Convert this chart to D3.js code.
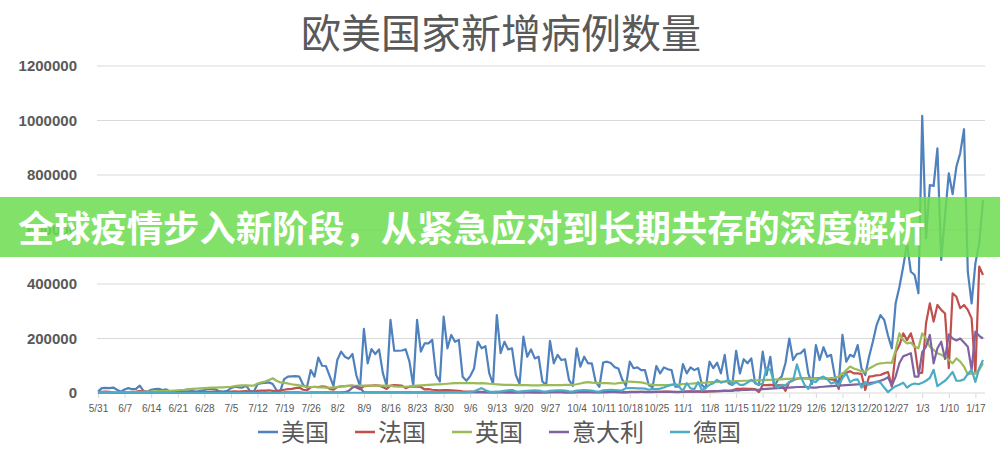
<!DOCTYPE html>
<html><head><meta charset="utf-8">
<script src="https://cdn.jsdelivr.net/npm/d3@7/dist/d3.min.js"></script>
<style>
html,body{margin:0;padding:0;background:#fff;}
svg{display:block;}
</style></head>
<body>
<svg id="chart" width="1000" height="457"></svg>
<script>
// Daily new cases, in thousands, starting 5/31 (one value per day)
const seriesNames = ["美国","法国","英国","意大利","德国"];
const seriesColors = ["#4F81BD","#C0504D","#9BBB59","#8064A2","#4BACC6"];
const usa = [
5,18,19,18,20,12,5, 13,18,14,15,27,7,5, 12,14,15,11,13,5,6, 7,10,12,13,6,5,8,
11,15,14,13,6,5,8, 18,23,21,20,27,8,5, 32,36,37,39,33,10,7, 51,60,61,62,60,30,20,
84,60,130,100,99,62,25, 121,152,133,126,143,66,23, 235,109,161,143,160,73,26,
268,155,155,156,160,115,26, 268,152,182,182,195,66,42, 280,164,213,188,195,60,45,
62,90,188,164,172,73,33, 286,146,188,160,164,66,33, 207,133,160,127,133,42,29,
191,109,140,121,124,48,26, 164,97,133,109,109,42,23, 112,115,110,95,90,50,26,
115,91,94,84,84,29,21, 99,72,94,87,84,23,23, 106,72,94,84,91,29,17,
115,91,111,72,140,36,29, 155,72,124,109,127,36,29, 152,66,133,23,48,60,110,
200,121,143,146,160,72,33, 176,121,168,133,140,60,29, 213,115,140,133,176,91,66,
133,188,250,286,268,210,164, 329,390,464,549,445,433,366, 1017,568,763,760,898,488,650,
806,730,831,880,968,445,329, 476,549,708];
const france = [
3,4,5,4,2,1,1, 2,3,4,5,7,6,3, 2,3,3,4,3,2,2, 2,3,3,4,4,3,2,
3,4,4,5,4,3,3, 5,6,5,6,7,5,4, 8,9,9,10,8,6,9, 12,14,15,18,20,12,10,
21,23,22,24,23,15,12, 22,24,25,26,27,20,14, 25,26,27,28,27,22,15,
27,29,28,27,18,23,24, 23,22,13,14,12,11,10, 11,11,10,9,8,6,5,
5,4,4,4,3,3,2, 3,3,3,2,2,2,2, 3,3,3,2,2,2,2,
3,3,3,3,2,2,2, 3,3,3,3,3,2,2, 3,3,4,4,3,2,2,
4,4,4,4,3,3,3, 4,4,5,5,4,3,3, 5,5,6,5,5,4,4,
6,6,7,8,9,8,10, 15,15,16,15,15,14,3, 29,29,30,29,28,29,8,
40,48,52,55,54,54,52, 54,55,54,52,50,48,15, 72,74,80,72,72,70,11,
60,62,65,66,72,77,23, 150,176,219,194,219,170,72, 75,256,329,262,323,305,292,
91,366,353,311,323,305,274, 72,464,433];
const uk = [
2,2,2,2,2,2,2, 2,3,3,3,3,4,4, 5,6,7,7,8,8,9, 10,11,12,14,15,16,17,
18,19,20,20,21,21,22, 23,25,27,28,28,27,27, 35,39,42,48,54,45,39, 37,35,32,30,28,25,23,
22,22,21,21,20,20,20, 22,24,25,26,27,26,27, 27,27,26,26,27,27,27,
26,24,23,23,23,24,26, 27,28,29,30,31,32,32, 33,34,35,36,36,36,36,
36,36,35,36,35,34,33, 32,31,30,30,30,29,29, 29,29,28,28,28,29,29,
29,29,29,29,30,30,30, 32,35,38,40,38,37,36, 36,36,35,34,36,38,42,
42,41,40,39,36,32,30, 29,29,29,29,30,30,31, 33,33,34,35,36,37,38,
40,40,41,42,42,43,43, 44,44,45,45,46,46,46, 47,48,48,49,50,50,52,
52,53,53,54,54,53,52, 52,53,54,54,55,56,60, 70,84,97,90,85,80,77,
90,97,105,109,110,112,110, 158,219,194,182,185,170,164, 219,200,170,158,146,140,133,
121,109,127,115,97,68,72, 72,85,109];
const italy = [
1,1,1,1,1,1,1, 1,1,1,1,1,1,1, 1,1,1,1,1,1,1, 1,1,1,1,1,1,1,
1,1,1,1,1,1,1, 1,1,1,1,1,1,1, 1,1,2,1,1,1,1, 2,2,2,2,2,1,1,
2,2,2,2,2,2,2, 2,2,3,8,20,24,18, 3,2,2,2,2,2,2,
2,2,2,2,2,2,2, 2,2,2,2,2,2,2, 2,2,2,2,2,2,2,
2,2,2,2,2,2,2, 2,2,2,2,2,2,2, 2,2,3,2,2,2,2,
3,3,3,3,2,2,2, 3,3,3,3,3,3,3, 3,3,3,3,3,3,3,
3,3,3,4,4,4,4, 4,4,4,4,4,4,4, 4,5,5,5,6,6,6,
6,7,7,7,8,8,8, 10,10,11,11,12,12,12, 14,15,16,17,18,19,20,
20,21,22,22,23,22,20, 20,22,23,24,25,26,27, 28,29,30,31,32,33,35,
36,38,40,45,50,58,27, 60,110,135,140,146,60,60, 150,170,213,109,164,188,125,
215,200,193,200,185,170,85, 225,210,200];
const germany = [
1,1,1,1,1,1,1, 1,1,1,1,1,1,1, 1,1,1,1,1,1,1, 1,1,1,1,1,1,1,
1,1,1,1,1,1,1, 1,1,1,1,1,1,1, 1,1,1,1,1,1,1, 1,1,1,1,1,1,1,
1,1,1,1,1,1,1, 1,1,1,1,1,1,1, 1,1,1,1,1,1,1,
1,1,1,1,1,1,1, 1,1,1,1,1,1,1, 2,2,3,3,3,2,2,
4,6,12,18,10,5,4, 5,6,8,10,11,6,5, 7,8,9,10,9,6,5,
8,9,10,10,9,6,5, 9,10,11,10,9,6,5, 10,11,12,11,10,9,18,
18,18,17,17,16,12,15, 14,16,20,26,30,34,22, 8,36,17,14,40,10,20,
30,36,48,38,42,48,30, 40,30,30,38,48,38,30, 35,91,85,40,20,30,28,
40,45,105,60,30,15,45, 40,55,60,50,35,40,28, 55,72,40,48,50,20,40,
30,35,42,38,20,3,15, 25,30,38,20,30,35,32, 38,45,55,85,25,35,45,
60,77,45,45,50,70,85, 41,91,121];
const seriesValues = [usa, france, uk, italy, germany];

const xTickLabels = ["5/31","6/7","6/14","6/21","6/28","7/5","7/12","7/19","7/26","8/2","8/9","8/16","8/23","8/30","9/6","9/13","9/20","9/27","10/4","10/11","10/18","10/25","11/1","11/8","11/15","11/22","11/29","12/6","12/13","12/20","12/27","1/3","1/10","1/17"];
const yTickValues = [0,200,400,600,800,1000,1200];
const yTickLabels = ["0","200000","400000","600000","800000","1000000","1200000"];

const titleText = "欧美国家新增病例数量";
const bannerText = "全球疫情步入新阶段，从紧急应对到长期共存的深度解析";

const svg = d3.select("#chart");
const W = 1000, H = 457;
const plot = {left: 97, right: 985, top: 66, bottom: 393};

const nDays = usa.length;
const x = d3.scaleLinear().domain([0, nDays - 1]).range([98, 983]);
const y = d3.scaleLinear().domain([0, 1200]).range([plot.bottom, plot.top]);

// title
svg.append("text")
  .attr("x", 501).attr("y", 48)
  .attr("text-anchor", "middle")
  .attr("font-family", "'Noto Sans CJK SC', sans-serif")
  .attr("font-size", 40)
  .attr("fill", "#595959")
  .text(titleText);

// gridlines
svg.append("g").selectAll("line")
  .data(yTickValues.filter(v => v > 0))
  .join("line")
  .attr("x1", plot.left).attr("x2", plot.right)
  .attr("y1", d => y(d)).attr("y2", d => y(d))
  .attr("stroke", "#d9d9d9").attr("stroke-width", 1.2);

// y axis labels
const yAxis = d3.axisLeft(y).tickValues(yTickValues)
  .tickFormat((d, i) => yTickLabels[i]).tickSize(0).tickPadding(0);
const gy = svg.append("g").attr("transform", "translate(77,0)").call(yAxis);
gy.select(".domain").remove();
gy.selectAll("text")
  .attr("font-family", "'Liberation Sans', Arial, sans-serif")
  .attr("font-weight", "bold")
  .attr("font-size", 15)
  .attr("fill", "#595959");

// x axis
const xTickValues = xTickLabels.map((_, i) => i * 7);
const xAxis = d3.axisBottom(x).tickValues(xTickValues)
  .tickFormat((d, i) => xTickLabels[i]).tickSize(5).tickPadding(7).tickSizeOuter(0);
const gx = svg.append("g").attr("transform", `translate(0,${plot.bottom})`).call(xAxis);
gx.select(".domain").attr("d", `M${plot.left},0H${plot.right}`).attr("stroke", "#d9d9d9").attr("stroke-width", 1.2);
gx.selectAll(".tick line").attr("stroke", "#d9d9d9");
gx.selectAll("text")
  .attr("font-family", "'Liberation Sans', Arial, sans-serif")
  .attr("font-size", 10)
  .attr("fill", "#595959");

// lines
const line = d3.line().x((d, i) => x(i)).y(d => y(d));
svg.append("g").selectAll("path")
  .data(seriesValues)
  .join("path")
  .attr("d", d => line(d))
  .attr("fill", "none")
  .attr("stroke", (d, i) => seriesColors[i])
  .attr("stroke-width", 2.2)
  .attr("stroke-linejoin", "round");

// legend
const legend = svg.append("g").attr("transform", "translate(0,432)");
const legendFont = "'Noto Sans CJK SC', sans-serif";
let lx = 258;
seriesNames.forEach((name, i) => {
  const g = legend.append("g").attr("transform", `translate(${lx},0)`);
  g.append("line").attr("x1", 0).attr("x2", 20).attr("y1", 0).attr("y2", 0)
    .attr("stroke", seriesColors[i]).attr("stroke-width", 2.5);
  const t = g.append("text").attr("x", 23).attr("y", 9)
    .attr("font-family", legendFont).attr("font-size", 24)
    .attr("fill", "#595959").text(name);
  const w = t.node().getComputedTextLength();
  lx += 23 + w + 26;
});

// banner overlay
svg.append("rect")
  .attr("x", 0).attr("y", 197).attr("width", W).attr("height", 60)
  .attr("fill", "#6edc50").attr("opacity", 0.86);
svg.append("text")
  .attr("x", 18).attr("y", 242)
  .attr("font-family", "'Noto Sans CJK SC', sans-serif")
  .attr("font-weight", "bold")
  .attr("font-size", 36)
  .attr("fill", "#ffffff")
  .attr("textLength", 907)
  .attr("lengthAdjust", "spacingAndGlyphs")
  .text(bannerText);
</script>
</body></html>
